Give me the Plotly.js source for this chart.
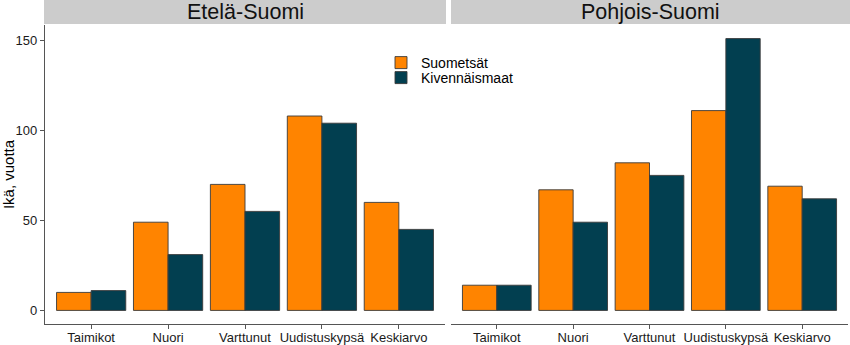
<!DOCTYPE html>
<html>
<head>
<meta charset="utf-8">
<script src="https://cdn.plot.ly/plotly-3.0.1.min.js"></script>
<style>html,body{margin:0;padding:0;background:#fff;}#chart{width:850px;height:345px;}</style>
</head>
<body>
<div id="chart"></div>
<script>
const categories = ['Taimikot', 'Nuori', 'Varttunut', 'Uudistuskypsä', 'Keskiarvo'];
const panels = ['Etelä-Suomi', 'Pohjois-Suomi'];
const seriesNames = ['Suometsät', 'Kivennäismaat'];
const etelaSuometsat = [10, 49, 70, 108, 60];
const etelaKivennaismaat = [11, 31, 55, 104, 45];
const pohjoisSuometsat = [14, 67, 82, 111, 69];
const pohjoisKivennaismaat = [14, 49, 75, 151, 62];
const yTicks = [0, 50, 100, 150];

const colors = ['#FF8400', '#023F50'];
const W = 850, H = 345;
const M = {l: 45, r: 2, t: 25, b: 21};
const PW = W - M.l - M.r, PH = H - M.t - M.b;
const px = v => (v - M.l) / PW;
const py = v => 1 + (M.t - v) / PH;
const legendIds = ['legend', 'legend2'];

function bar(y, i, xa, ya, show) {
  return {
    type: 'bar', x: categories, y: y, name: seriesNames[i],
    xaxis: xa, yaxis: ya, legendgroup: seriesNames[i], showlegend: show,
    legend: legendIds[i],
    marker: {color: colors[i], line: {color: '#3a3a3a', width: 0.9}},
    hoverinfo: 'x+y'
  };
}

const data = [
  bar(etelaSuometsat, 0, 'x', 'y', true),
  bar(etelaKivennaismaat, 1, 'x', 'y', true),
  bar(pohjoisSuometsat, 0, 'x2', 'y2', false),
  bar(pohjoisKivennaismaat, 1, 'x2', 'y2', false)
];

const font = {family: 'Liberation Sans, Arial, sans-serif', color: '#1a1a1a'};
const xBase = {
  type: 'category', range: [-0.6, 4.6], showgrid: false, zeroline: false,
  showline: true, linecolor: '#555', linewidth: 1.2,
  ticks: 'outside', ticklen: 4, tickcolor: '#555', tickwidth: 1,
  ticklabelstandoff: -3,
  tickfont: {family: font.family, size: 13, color: '#1a1a1a'}, fixedrange: true
};
const yRange = [-7.55, 158.55];
const legendBase = {
  xanchor: 'left', yanchor: 'middle', bgcolor: 'rgba(0,0,0,0)', tracegroupgap: 0,
  borderwidth: 0, font: {family: font.family, size: 14, color: '#000'}
};

const layout = {
  width: W, height: H, margin: M,
  paper_bgcolor: '#fff', plot_bgcolor: '#fff',
  font: font,
  barmode: 'group', bargap: 0.1, bargroupgap: 0,
  xaxis: Object.assign({}, xBase, {domain: [0, px(445)], anchor: 'y'}),
  xaxis2: Object.assign({}, xBase, {domain: [px(451), 1], anchor: 'y2'}),
  yaxis: {
    range: yRange, domain: [0, 1], anchor: 'x', tickvals: yTicks,
    showgrid: false, zeroline: false, showline: true, linecolor: '#555', linewidth: 1.2,
    ticks: 'outside', ticklen: 4, tickcolor: '#555',
    tickfont: {family: font.family, size: 13, color: '#1a1a1a'},
    title: {text: 'Ikä, vuotta', font: {family: font.family, size: 15, color: '#000'}, standoff: 6},
    automargin: false
  },
  yaxis2: {
    range: yRange, domain: [0, 1], anchor: 'x2', showgrid: false, zeroline: false,
    showline: false, showticklabels: false, ticks: ''
  },
  showlegend: true,
  legend: Object.assign({}, legendBase, {x: px(381), y: py(63)}),
  legend2: Object.assign({}, legendBase, {x: px(381), y: py(78)}),
  shapes: [
    {type: 'rect', xref: 'paper', yref: 'paper', x0: px(44), x1: px(446), y0: py(24), y1: py(0), fillcolor: '#CCCCCC', line: {width: 0}, layer: 'below'},
    {type: 'rect', xref: 'paper', yref: 'paper', x0: px(451), x1: px(851), y0: py(24), y1: py(0), fillcolor: '#CCCCCC', line: {width: 0}, layer: 'below'}
  ],
  annotations: [
    {text: panels[0], xref: 'paper', yref: 'paper', x: px(245), y: py(12), xanchor: 'center', yanchor: 'middle', showarrow: false, font: {family: font.family, size: 21.5, color: '#111'}},
    {text: panels[1], xref: 'paper', yref: 'paper', x: px(650), y: py(12), xanchor: 'center', yanchor: 'middle', showarrow: false, font: {family: font.family, size: 21.5, color: '#111'}}
  ]
};

Plotly.newPlot('chart', data, layout, {displayModeBar: false, staticPlot: true});
</script>
</body>
</html>
